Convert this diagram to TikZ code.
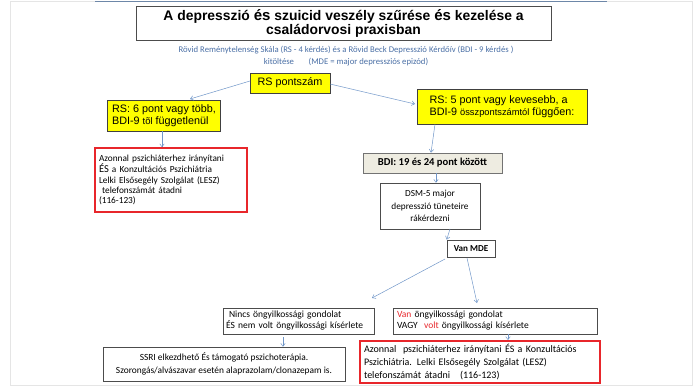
\documentclass[tikz,border=0pt]{standalone}
\usepackage{fontspec}
\setmainfont{Carlito}
\newfontfamily\arialf{Liberation Sans}
\usetikzlibrary{arrows.meta}
\definecolor{arr}{HTML}{7096C8}
\definecolor{subblue}{HTML}{4A6FA5}
\definecolor{boxred}{HTML}{E8262B}
\definecolor{ylw}{HTML}{FFFF00}
\definecolor{beige}{HTML}{EEECE1}
\definecolor{frameline}{HTML}{6D87A8}
\begin{document}
\begin{tikzpicture}[x=1pt,y=-1pt,
  plainbox/.style={draw=black!70, line width=0.6pt, fill=white, inner sep=3pt},
  ybox/.style={draw=black!75, line width=0.6pt, fill=ylw, inner sep=3pt, font=\arialf\fontsize{10.8}{12.5}\selectfont},
  redbox/.style={draw=boxred, line width=1.6pt, fill=white, inner sep=3pt},
  conn/.style={draw=arr, line width=0.5pt, -{Straight Barb[length=3pt,width=4.5pt]}}
]
\useasboundingbox (0,0) rectangle (700,387);
\draw[black!10, line width=1pt] (10,2) rectangle (692,385);
\draw[frameline, line width=1pt] (95,2) -- (607,2);

\node[plainbox, draw=black!70, minimum width=415, minimum height=33, align=center,
  font=\arialf\bfseries\fontsize{13.9}{14.5}\selectfont] (title) at (343.5,23.5)
  {A depresszió {\fontsize{15}{14.5}\selectfont és} szuicid veszély szűrése {\fontsize{15}{14.5}\selectfont és} kezelése a\\családorvosi praxisban};

\node[text=subblue, align=center, font=\fontsize{8.7}{12.5}\selectfont] (sub) at (346,56)
  {Rövid Reménytelenség Skála (RS - 4 kérdés) és a Rövid Beck Depresszió Kérdőív (BDI - 9 kérdés )\\
   kitöltése \quad\ \ (MDE = major depressziós epizód)};

\node[ybox, minimum width=80, minimum height=20] (rs) at (290,83) {RS pontszám};
\node[ybox, minimum width=113, minimum height=31, align=left] (rs6) at (164,115.5)
  {RS: 6 pont vagy több,\\BDI-9 {\fontsize{9.5}{12}\selectfont tõl} függetlenül};
\node[ybox, minimum width=170, minimum height=35, align=left] (rs5) at (502,106.5)
  {RS: 5 pont vagy kevesebb, a\\BDI-9 {\fontsize{9.3}{12}\selectfont összpontszámtól} függően:};

\node[redbox, minimum width=152, minimum height=64, align=left, text width=144,
  font=\fontsize{9.3}{10.2}\selectfont] (red1) at (171,180)
  {Azonnal pszichiáterhez irányítani\\{\fontsize{10.5}{10.2}\selectfont ÉS} a Konzultációs Pszichiátria\\Lelki Elsősegély Szolgálat (LESZ)\\\ telefonszámát átadni\\(116-123)};

\node[draw=black!55, line width=0.6pt, fill=beige, minimum width=139, minimum height=20,
  font=\bfseries\fontsize{10.6}{12}\selectfont] (bdi) at (432.5,163) {BDI: 19 és 24 pont között};

\node[plainbox, minimum width=100, minimum height=46, align=center,
  font=\fontsize{9.3}{12.2}\selectfont] (dsm) at (430,206)
  {DSM-5 major\\depresszió tüneteire\\rákérdezni};

\node[plainbox, minimum width=48, minimum height=17, inner sep=1pt,
  font=\bfseries\fontsize{9.1}{10}\selectfont] (mde) at (471,248.5) {Van MDE};

\node[plainbox, minimum width=151, minimum height=26, align=left, text width=145,
  font=\fontsize{9.5}{11}\selectfont, inner sep=2pt] (nincs) at (298.5,321)
  {\hspace*{3pt}Nincs öngyilkossági gondolat\\ÉS nem volt öngyilkossági kísérlete};

\node[plainbox, minimum width=204, minimum height=26, align=left, text width=196,
  font=\fontsize{9.5}{11}\selectfont] (van) at (495,321)
  {\textcolor{boxred}{Van} öngyilkossági gondolat\\VAGY\ \ \textcolor{boxred}{volt} öngyilkossági kísérlete};

\node[redbox, minimum width=240, minimum height=42, align=left, text width=232,
  font=\fontsize{10}{13.3}\selectfont] (red2) at (480,362)
  {Azonnal\ \ pszichiáterhez irányítani ÉS a Konzultációs\\Pszichiátria. Lelki Elsősegély Szolgálat (LESZ)\\telefonszámát átadni\ \ \ (116-123)};

\node[plainbox, minimum width=242, minimum height=34, align=center, inner sep=2pt,
  font=\fontsize{9.4}{13}\selectfont] (ssri) at (224,364)
  {SSRI elkezdhető És támogató pszichoterápia.\\Szorongás/alvászavar esetén alaprazolam/clonazepam is.};

\coordinate (rsL) at (250,81);
\coordinate (rsR) at (330,84);
\draw[conn] (rsL) -- (190,99);
\draw[conn] (rsR) -- (415,104);
\draw[conn] (rs6.south -| 162,0) -- (red1.north -| 162,0);
\draw[conn] (rs5.south -| 435,0) -- (bdi.north -| 431,0);
\draw[conn] (bdi.south -| 436,0) -- (dsm.north -| 436,0);
\draw[conn] (450,229) -- (mde.north west);
\draw[conn] (445,259) -- (372,298);
\draw[conn] (467,258) -- (477,303);
\coordinate (nb) at (283,337);
\draw[conn] (nb) -- (ssri.north -| nb);
\draw[conn] (van.south -| 508,0) -- (red2.north -| 508,0);
\end{tikzpicture}
\end{document}
